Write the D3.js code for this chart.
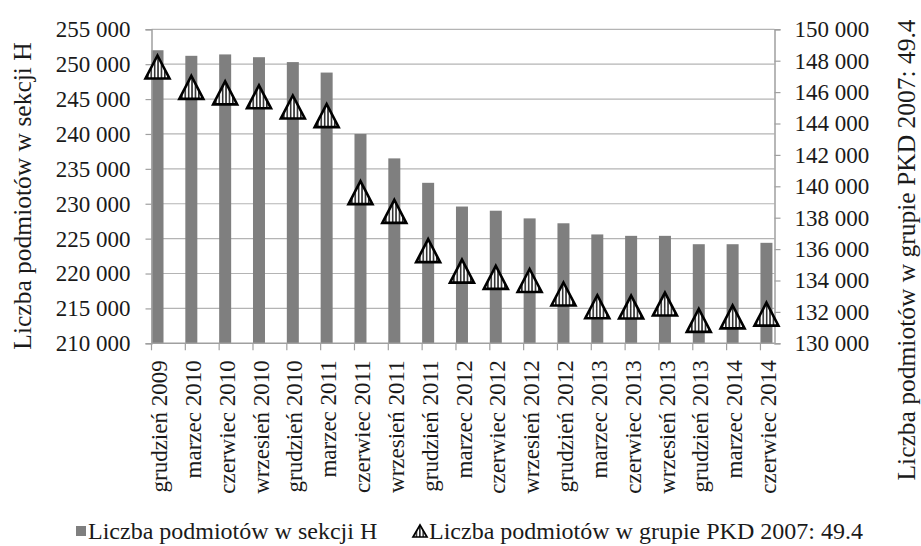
<!DOCTYPE html>
<html>
<head>
<meta charset="utf-8">
<script src="https://cdn.jsdelivr.net/npm/d3@7"></script>
<style>
  html, body { margin: 0; padding: 0; background: #fff; }
  svg { display: block; font-family: "Liberation Serif", "Times New Roman", serif; }
</style>
</head>
<body>
<svg id="chart" width="921" height="546"></svg>
<script>
// Quarterly periods
const categories = [
  "grudzień 2009", "marzec 2010", "czerwiec 2010", "wrzesień 2010", "grudzień 2010",
  "marzec 2011", "czerwiec 2011", "wrzesień 2011", "grudzień 2011", "marzec 2012",
  "czerwiec 2012", "wrzesień 2012", "grudzień 2012", "marzec 2013", "czerwiec 2013",
  "wrzesień 2013", "grudzień 2013", "marzec 2014", "czerwiec 2014"
];
// Entities in section H (left axis, columns)
const sectionH = [
  252000, 251200, 251400, 251000, 250300,
  248800, 240000, 236500, 233000, 229600,
  229000, 227900, 227200, 225600, 225400,
  225400, 224200, 224200, 224400
];
// Entities in group PKD 2007: 49.4 (right axis, triangles)
const group494 = [
  147600, 146300, 145950, 145700, 145050,
  144500, 139600, 138400, 135900, 134600,
  134200, 134000, 133140, 132330, 132310,
  132500, 131460, 131680, 131860
];
const leftTicks = d3.range(210000, 255001, 5000);
const rightTicks = d3.range(130000, 150001, 2000);
const seriesNames = ["Liczba podmiotów w sekcji H", "Liczba podmiotów w grupie PKD 2007: 49.4"];
const axisTitles = ["Liczba podmiotów w sekcji H", "Liczba podmiotów w grupie PKD 2007: 49.4"];

const svg = d3.select("#chart");
const tickFont = 23, legendFont = 24, titleFont = 25.5;
const textColor = "#1a1a1a";
const plotLeft = 151.5, plotRight = 774.5, plotTop = 29.3, plotBottom = 343.3;
const step = 33.83, barW = 12;
const gridColor = "#b4b4b4", axisColor = "#a0a0a0", barColor = "#7f7f7f";

const fmt = v => d3.format(",")(v).replace(/,/g, " ");

const x = d3.scaleBand()
  .domain(categories)
  .range([plotLeft, plotLeft + step * categories.length])
  .paddingInner(0).paddingOuter(0);
const yL = d3.scaleLinear().domain([210000, 255000]).range([plotBottom, plotTop]);
const yR = d3.scaleLinear().domain([130000, 150000]).range([plotBottom, plotTop]);

// vertical hatch used inside the triangle markers
const defs = svg.append("defs");
const pat = defs.append("pattern")
  .attr("id", "vhatch").attr("patternUnits", "userSpaceOnUse")
  .attr("width", 3.4).attr("height", 10);
pat.append("rect").attr("width", 3.4).attr("height", 10).attr("fill", "#fff");
pat.append("rect").attr("x", 1).attr("width", 1.3).attr("height", 10).attr("fill", "#000");

// horizontal gridlines (left axis)
svg.append("g").selectAll("line").data(leftTicks.filter(t => t > 210000)).join("line")
  .attr("x1", plotLeft).attr("x2", plotRight)
  .attr("y1", d => yL(d)).attr("y2", d => yL(d))
  .attr("stroke", gridColor).attr("stroke-width", 1.2);

// columns
svg.append("g").selectAll("rect").data(categories).join("rect")
  .attr("x", d => x(d))
  .attr("width", barW)
  .attr("y", (d, i) => yL(sectionH[i]))
  .attr("height", (d, i) => plotBottom - yL(sectionH[i]))
  .attr("fill", barColor);

// left axis
const gL = svg.append("g").attr("transform", `translate(${plotLeft},0)`)
  .call(d3.axisLeft(yL).tickValues(leftTicks).tickSize(6).tickPadding(15).tickFormat(fmt));
gL.select(".domain").attr("stroke", axisColor).attr("stroke-width", 1.5);
gL.selectAll(".tick line").attr("stroke", axisColor).attr("stroke-width", 1.2);
gL.selectAll(".tick text").attr("font-size", tickFont).attr("font-family", "Liberation Serif").attr("fill", textColor);

// right axis
const gR = svg.append("g").attr("transform", `translate(${plotRight},0)`)
  .call(d3.axisRight(yR).tickValues(rightTicks).tickSize(6).tickPadding(14).tickFormat(fmt));
gR.select(".domain").attr("stroke", axisColor).attr("stroke-width", 1.5);
gR.selectAll(".tick line").attr("stroke", axisColor).attr("stroke-width", 1.2);
gR.selectAll(".tick text").attr("font-size", tickFont).attr("font-family", "Liberation Serif").attr("fill", textColor);

// bottom axis line and category ticks
svg.append("line")
  .attr("x1", plotLeft).attr("x2", plotRight)
  .attr("y1", plotBottom).attr("y2", plotBottom)
  .attr("stroke", axisColor).attr("stroke-width", 1.5);
svg.append("g").selectAll("line").data(categories).join("line")
  .attr("x1", d => x(d)).attr("x2", d => x(d))
  .attr("y1", plotBottom).attr("y2", plotBottom + 7)
  .attr("stroke", axisColor).attr("stroke-width", 1.2);

// category labels
svg.append("g").selectAll("text").data(categories).join("text")
  .attr("transform", d => `translate(${x(d) + barW / 2 + 1.5},${plotBottom + 17}) rotate(-90)`)
  .attr("text-anchor", "end")
  .attr("dy", "0.35em")
  .attr("font-size", tickFont)
  .attr("fill", textColor)
  .text(d => d);

// triangle markers
const tri = (cx, cy, w, h) =>
  `M${cx},${cy - h / 2} L${cx + w / 2},${cy + h / 2} L${cx - w / 2},${cy + h / 2} Z`;
svg.append("g").selectAll("path").data(categories).join("path")
  .attr("d", (d, i) => tri(x(d) + barW / 2, yR(group494[i]), 24, 23))
  .attr("fill", "url(#vhatch)")
  .attr("stroke", "#000")
  .attr("stroke-width", 2.6)
  .attr("stroke-linejoin", "miter");

// axis titles
svg.append("text")
  .attr("transform", `translate(22.5,196) rotate(-90)`)
  .attr("text-anchor", "middle").attr("dy", "0.35em")
  .attr("font-size", titleFont).attr("fill", textColor)
  .text(axisTitles[0]);
svg.append("text")
  .attr("transform", `translate(906,250) rotate(-90)`)
  .attr("text-anchor", "middle").attr("dy", "0.35em")
  .attr("font-size", titleFont).attr("fill", textColor)
  .text(axisTitles[1]);

// legend
const legendBase = 539;
const lg = svg.append("g");
lg.append("rect").attr("x", 76).attr("y", legendBase - 13).attr("width", 10).attr("height", 10).attr("fill", barColor);
lg.append("text").attr("x", 88).attr("y", legendBase)
  .attr("font-size", legendFont).attr("fill", textColor).text(seriesNames[0]);
lg.append("path").attr("d", tri(420, legendBase - 8, 14, 12))
  .attr("fill", "url(#vhatch)").attr("stroke", "#000").attr("stroke-width", 1.7);
lg.append("text").attr("x", 429).attr("y", legendBase)
  .attr("font-size", legendFont).attr("fill", textColor).text(seriesNames[1]);
</script>
</body>
</html>
